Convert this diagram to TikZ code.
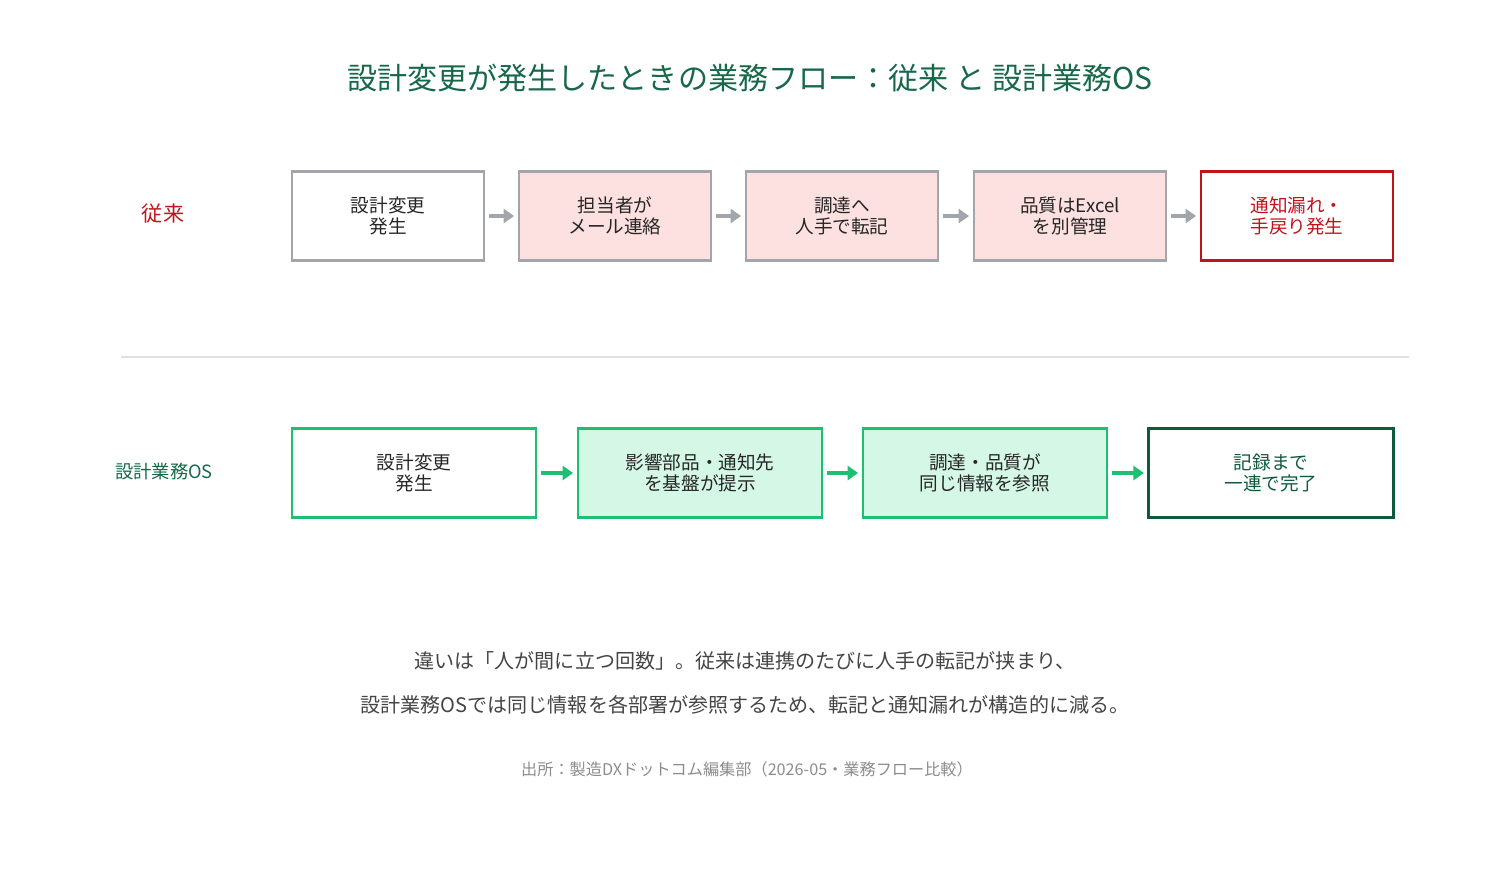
\documentclass[tikz,border=0pt]{standalone}
\usepackage{fontspec}
\setmainfont{Noto Sans CJK JP}
\usetikzlibrary{arrows.meta}
\definecolor{titlegreen}{HTML}{17684A}
\definecolor{oldgray}{HTML}{A2A6AB}
\definecolor{oldpink}{HTML}{FDE0E0}
\definecolor{oldred}{HTML}{C0141C}
\definecolor{newgreen}{HTML}{1DBF73}
\definecolor{newfill}{HTML}{D4F7E6}
\definecolor{darkgreen}{HTML}{0F5A3A}
\definecolor{bodytext}{HTML}{444444}
\tikzset{
  flowbox/.style={draw, line width=0.75pt, minimum height=0.89cm, align=center, font=\fontsize{5.3pt}{5.9pt}\selectfont, text=black!85},
  oldstep/.style={flowbox, draw=oldgray, minimum width=1.92cm},
  newstep/.style={flowbox, draw=newgreen, minimum width=2.44cm},
  oldarrow/.style={-{Triangle[length=3pt,width=4pt]}, line width=1.2pt, oldgray, shorten <=1pt, shorten >=1pt},
  newarrow/.style={-{Triangle[length=3pt,width=4pt]}, line width=1.2pt, newgreen, shorten <=1pt, shorten >=1pt}
}
\begin{document}
\begin{tikzpicture}[x=0.01cm, y=-0.01cm]
        \useasboundingbox (0,0) rectangle (1500,875);
        % Title
        \node[text=titlegreen, font=\fontsize{8.55pt}{9pt}\selectfont] (title) at (750, 78) {設計変更が発生したときの業務フロー：従来 と 設計業務OS};

        % Conventional flow
        \node[text=oldred, font=\fontsize{6pt}{7pt}\selectfont] (oldlabel) at (163, 214) {従来};
        \node[oldstep] (old1) at (388, 216) {設計変更\\発生};
        \node[oldstep, fill=oldpink] (old2) at (615, 216) {担当者が\\メール連絡};
        \node[oldstep, fill=oldpink] (old3) at (842, 216) {調達へ\\人手で転記};
        \node[oldstep, fill=oldpink] (old4) at (1070, 216) {品質はExcel\\を別管理};
        \node[oldstep, draw=oldred, text=oldred] (old5) at (1297, 216) {通知漏れ・\\手戻り発生};

        \draw[oldarrow] (old1) -- (old2);
        \draw[oldarrow] (old2) -- (old3);
        \draw[oldarrow] (old3) -- (old4);
        \draw[oldarrow] (old4) -- (old5);

        % Divider
        \coordinate (divl) at (121, 357);
        \coordinate (divr) at (1409, 357);
        \draw[black!12, line width=0.6pt] (divl) -- (divr);

        % OS flow
        \node[text=titlegreen, font=\fontsize{5.2pt}{6pt}\selectfont] (newlabel) at (164, 472) {設計業務OS};
        \node[newstep] (new1) at (414, 473) {設計変更\\発生};
        \node[newstep, fill=newfill] (new2) at (700, 473) {影響部品・通知先\\を基盤が提示};
        \node[newstep, fill=newfill] (new3) at (985, 473) {調達・品質が\\同じ情報を参照};
        \node[newstep, draw=darkgreen, line width=0.85pt, text=darkgreen] (new4) at (1271, 473) {記録まで\\一連で完了};

        \draw[newarrow] (new1) -- (new2);
        \draw[newarrow] (new2) -- (new3);
        \draw[newarrow] (new3) -- (new4);

        % Summary
        \node[text=bodytext, font=\fontsize{5.7pt}{6pt}\selectfont] (sum1) at (745, 661) {違いは「人が間に立つ回数」。従来は連携のたびに人手の転記が挟まり、};
        \node[text=bodytext, font=\fontsize{5.7pt}{6pt}\selectfont] (sum2) at (745, 705) {設計業務OSでは同じ情報を各部署が参照するため、転記と通知漏れが構造的に減る。};
        \node[text=black!45, font=\fontsize{4.6pt}{5pt}\selectfont] (source) at (747, 769) {出所：製造DXドットコム編集部（2026-05・業務フロー比較）};
    \end{tikzpicture}
\end{document}
